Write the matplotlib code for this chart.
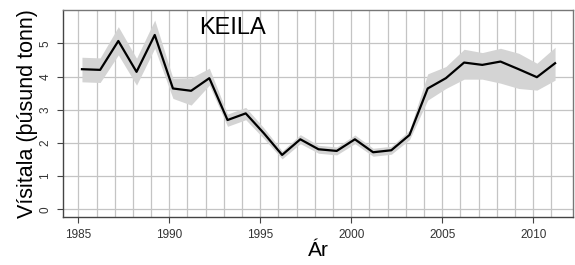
import matplotlib
matplotlib.use('Agg')
import matplotlib.pyplot as plt
import numpy as np

plt.rcParams['font.family'] = ['Liberation Sans', 'DejaVu Sans']

# gögn
ar = np.arange(1985, 2012)
visitala = [4.22, 4.20, 5.07, 4.14, 5.25, 3.64, 3.57, 3.95, 2.69, 2.89,
            2.29, 1.64, 2.11, 1.81, 1.76, 2.11, 1.72, 1.78, 2.24, 3.64,
            3.95, 4.42, 4.35, 4.45, 4.22, 3.98, 4.40]
efri = [4.58, 4.56, 5.50, 4.55, 5.70, 3.95, 3.96, 4.25, 2.87, 3.07,
        2.45, 1.76, 2.25, 1.93, 1.88, 2.24, 1.84, 1.90, 2.38, 4.08,
        4.30, 4.82, 4.72, 4.85, 4.70, 4.40, 4.88]
nedri = [3.84, 3.82, 4.65, 3.74, 4.85, 3.34, 3.14, 3.74, 2.50, 2.70,
         2.13, 1.52, 1.98, 1.69, 1.64, 1.98, 1.60, 1.66, 2.10, 3.29,
         3.64, 3.92, 3.92, 3.80, 3.64, 3.59, 3.89]
xticks = [1985, 1990, 1995, 2000, 2005, 2010]
yticks = [0, 1, 2, 3, 4, 5]

x = ar + 0.2  # punktar aðeins hliðraðir frá árinu

fig = plt.figure(figsize=(5.75, 2.65), dpi=100)
ax = fig.add_axes([0.1096, 0.181, 0.8874, 0.781])

ax.fill_between(x, nedri, efri, color='#d4d4d4', lw=0, zorder=2)
ax.plot(x, visitala, color='black', lw=1.6, zorder=3)

for a in ar:
    ax.axvline(a, color='#c4c4c4', lw=0.9, zorder=1)
for t in yticks:
    ax.axhline(t, color='#c4c4c4', lw=0.9, zorder=1)

ax.set_xlim(1984.16, 2012.2)
ax.set_ylim(-0.23, 6.0)
ax.set_xticks(xticks)
ax.set_yticks(yticks)
ax.set_xticklabels([str(v) for v in xticks], fontsize=8.5, color='#333333')
ax.set_yticklabels([str(v) for v in yticks], fontsize=8.5, color='#333333',
                   rotation=90, va='center')
ax.tick_params(length=4.5, width=0.8, color='#444444', pad=4)

for s in ax.spines.values():
    s.set_color('#777777')
    s.set_linewidth(1.0)
ax.spines['left'].set_color('#444444')
ax.spines['bottom'].set_color('#444444')

ax.text(1993.5, 5.45, 'KEILA', fontsize=17, ha='center', va='center')
ax.set_ylabel('Vísitala (þúsund tonn)', fontsize=15.5, labelpad=1)
ax.set_xlabel('Ár', fontsize=15, labelpad=0)

fig.savefig('out.png', dpi=100)
